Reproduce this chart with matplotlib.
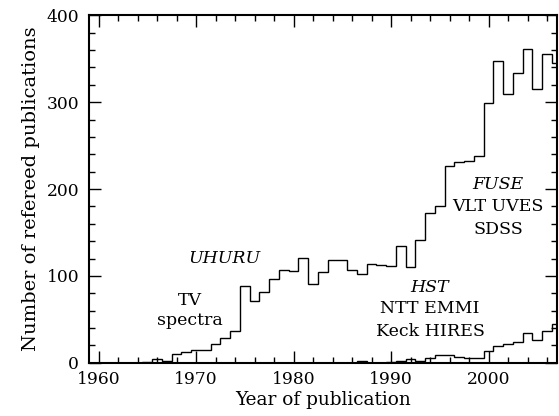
import matplotlib
matplotlib.use("Agg")
import matplotlib.pyplot as plt
import numpy as np
from matplotlib.ticker import MultipleLocator

# All refereed publications per year
years_all = list(range(1964, 2008))
counts_all = [0, 0.8, 4, 1.5, 10, 12, 15, 14.5, 22, 28, 36,
              88, 71, 81, 96, 107, 106, 121, 91, 104, 118,
              118, 107, 102, 114, 112.5, 111, 134, 110, 141, 172,
              181, 226, 231, 232, 238, 299, 347, 310, 334, 361,
              315, 356, 345]

# Lower series (HST / NTT EMMI / Keck HIRES era)
years_low = list(range(1985, 2008))
counts_low = [0, 0, 2, 0, 0, 1, 2.3, 4, 2.3, 6,
              8.5, 8.5, 7, 6, 5.5, 14, 19, 22, 24, 34,
              26, 37, 45]

xlabel = "Year of publication"
ylabel = "Number of refereed publications"
xticks = [1960, 1970, 1980, 1990, 2000]
yticks = [0, 100, 200, 300, 400]

plt.rcParams['font.family'] = ['DejaVu Serif']
plt.rcParams['mathtext.fontset'] = 'dejavuserif'

fig = plt.figure(figsize=(5.59, 4.16), dpi=100)
ax = fig.add_axes([0.159, 0.128, 0.837, 0.835])

def edges_of(years):
    y = np.asarray(years, dtype=float)
    return np.concatenate([y - 0.5, [y[-1] + 0.5]])

ax.stairs(counts_all, edges_of(years_all), color='black', linewidth=1.0, baseline=None)
ax.stairs(counts_low, edges_of(years_low), color='black', linewidth=1.0, baseline=None)

ax.set_xlim(1959, 2007)
ax.set_ylim(0, 400)
ax.set_xticks(xticks)
ax.set_yticks(yticks)
ax.xaxis.set_minor_locator(MultipleLocator(2))
ax.yaxis.set_minor_locator(MultipleLocator(20))
ax.tick_params(which='both', direction='in', top=True, right=True, labelsize=12.3, width=1.0)
ax.tick_params(which='major', length=8.5)
ax.tick_params(which='minor', length=4.3)
ax.tick_params(axis='x', which='major', pad=6)
ax.tick_params(axis='y', which='major', pad=7)
for s in ax.spines.values():
    s.set_linewidth(1.5)

ax.set_xlabel(xlabel, fontsize=13.3, labelpad=2)
ax.set_ylabel(ylabel, fontsize=14, labelpad=5)

fs = 12.5
ax.text(1969.4, 72, "TV", ha='center', va='center', fontsize=fs)
ax.text(1969.4, 49, "spectra", ha='center', va='center', fontsize=fs)
ax.text(1972.9, 120, "UHURU", ha='center', va='center', fontsize=fs, style='italic')
ax.text(2001.0, 205, "FUSE", ha='center', va='center', fontsize=fs, style='italic')
ax.text(2001.0, 180, "VLT UVES", ha='center', va='center', fontsize=fs)
ax.text(2001.0, 154, "SDSS", ha='center', va='center', fontsize=fs)
ax.text(1994.0, 87, "HST", ha='center', va='center', fontsize=fs, style='italic')
ax.text(1994.0, 63, "NTT EMMI", ha='center', va='center', fontsize=fs)
ax.text(1994.0, 36, "Keck HIRES", ha='center', va='center', fontsize=fs)

fig.savefig("out.png", dpi=100)
